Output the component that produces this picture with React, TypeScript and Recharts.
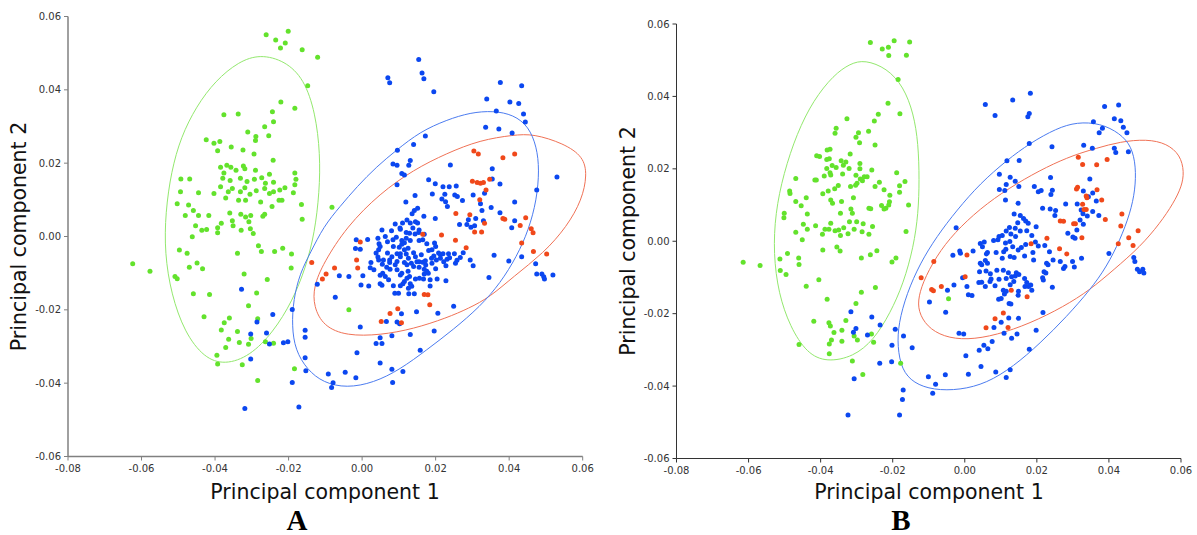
import { ReferenceLine, Scatter, ScatterChart, XAxis, YAxis } from "recharts";

type Pt = [number, number];

const xTicks = [-0.08, -0.06, -0.04, -0.02, 0, 0.02, 0.04, 0.06];
const yTicks = [-0.06, -0.04, -0.02, 0, 0.02, 0.04, 0.06];
const xTitle = "Principal component 1";
const yTitle = "Principal component 2";

// panel A
const greenA: Pt[] = [
  [-0.0261, 0.055], [-0.0235, 0.0536], [-0.0209, 0.0528], [-0.0201, 0.056], [-0.0222, 0.0514], [-0.0163, 0.0509],
  [-0.0121, 0.0489], [-0.0148, 0.0411], [-0.0221, 0.0367], [-0.0183, 0.035], [-0.0244, 0.034], [-0.0376, 0.0332],
  [-0.0337, 0.0334], [-0.0241, 0.0313], [-0.0265, 0.0299], [-0.0311, 0.0285], [-0.0289, 0.0273], [-0.029, 0.0262],
  [-0.0254, 0.0275], [-0.0424, 0.0264], [-0.0403, 0.0254], [-0.0387, 0.0259], [-0.0393, 0.0234], [-0.0356, 0.0244],
  [-0.0324, 0.0236], [-0.0294, 0.0225], [-0.0242, 0.0208], [-0.0385, 0.0189], [-0.0368, 0.0194], [-0.0357, 0.0189],
  [-0.0376, 0.0173], [-0.0343, 0.0181], [-0.0323, 0.0192], [-0.0319, 0.0185], [-0.029, 0.0181], [-0.0252, 0.017],
  [-0.0183, 0.0173], [-0.0379, 0.0159], [-0.0359, 0.0153], [-0.0331, 0.0159], [-0.0313, 0.015], [-0.0293, 0.0156],
  [-0.0273, 0.016], [-0.0263, 0.0145], [-0.0241, 0.0148], [-0.021, 0.0133], [-0.018, 0.0156], [-0.0183, 0.0141],
  [-0.0385, 0.0136], [-0.0364, 0.0122], [-0.0353, 0.0131], [-0.0331, 0.0122], [-0.0319, 0.0133], [-0.0305, 0.0115],
  [-0.0288, 0.0125], [-0.0265, 0.0131], [-0.0252, 0.0117], [-0.0241, 0.0122], [-0.0224, 0.0127], [-0.0218, 0.0099],
  [-0.0187, 0.0119], [-0.0403, 0.0117], [-0.0371, 0.0105], [-0.0336, 0.0099], [-0.0317, 0.0099], [-0.0276, 0.0094],
  [-0.0245, 0.0082], [-0.0226, 0.0099], [-0.0165, 0.0087], [-0.0163, 0.0047], [-0.0493, 0.0157], [-0.0469, 0.0157],
  [-0.0494, 0.0122], [-0.0445, 0.0119], [-0.0503, 0.0089], [-0.0472, 0.0086], [-0.0459, 0.0071], [-0.0481, 0.0057],
  [-0.0445, 0.0057], [-0.0417, 0.0057], [-0.0423, 0.0019], [-0.0453, 0.0029], [-0.0436, 0.0017], [-0.0462, -0.0001],
  [-0.0393, 0.0024], [-0.0393, 0.001], [-0.0383, 0.0036], [-0.036, 0.0064], [-0.0353, 0.0043], [-0.033, 0.0061],
  [-0.0317, 0.0053], [-0.0303, 0.0057], [-0.0308, 0.004], [-0.027, 0.0055], [-0.0265, 0.0061], [-0.0351, 0.0029],
  [-0.0329, 0.0017], [-0.0304, 0.0021], [-0.0296, 0.0008], [-0.0082, 0.008], [-0.0497, -0.0037], [-0.0476, -0.0046],
  [-0.047, -0.0084], [-0.0449, -0.0072], [-0.0434, -0.0088], [-0.0624, -0.0074], [-0.0577, -0.0095], [-0.0509, -0.0109],
  [-0.0503, -0.0115], [-0.0459, -0.0156], [-0.0415, -0.0158], [-0.043, -0.0219], [-0.0339, -0.0046], [-0.0321, -0.0102],
  [-0.0287, -0.0154], [-0.0258, -0.0117], [-0.0309, -0.0189], [-0.0274, -0.0041], [-0.0282, -0.0025], [-0.0238, -0.0041],
  [-0.0216, -0.0032], [-0.0192, -0.0048], [-0.0193, -0.0086], [-0.0284, -0.0224], [-0.0375, -0.0235], [-0.0361, -0.0222],
  [-0.0383, -0.0255], [-0.0339, -0.0259], [-0.0363, -0.028], [-0.0371, -0.0303], [-0.0334, -0.0289], [-0.0309, -0.0294],
  [-0.0302, -0.0278], [-0.0263, -0.0287], [-0.0241, -0.0291], [-0.0395, -0.0324], [-0.0393, -0.0348], [-0.0326, -0.035],
  [-0.0284, -0.0393], [-0.0184, -0.0361], [-0.0036, -0.02],
];

const blueA: Pt[] = [
  [0.014, 0.0251], [0.0096, 0.0235], [0.0084, 0.0198], [0.0095, 0.0194], [0.0131, 0.0207], [0.0127, 0.0194],
  [0.024, 0.0195], [0.0354, 0.0185], [0.0108, 0.0172], [0.0115, 0.0168], [0.0095, 0.0141], [0.0181, 0.0155],
  [0.0199, 0.0144], [0.022, 0.0136], [0.0237, 0.0136], [0.0256, 0.0138], [0.0354, 0.0157], [0.0191, 0.0116],
  [0.0225, 0.0115], [0.0252, 0.0113], [0.0259, 0.0109], [0.0273, 0.0098], [0.0302, 0.0113], [0.0217, 0.0102],
  [0.0227, 0.0095], [0.0232, 0.0082], [0.0144, 0.0112], [0.0119, 0.0094], [0.0375, 0.0143], [0.0322, 0.0089],
  [0.0333, 0.0118], [0.0351, 0.0079], [0.0375, 0.0065], [0.0326, 0.0071], [0.0309, 0.0049], [0.033, 0.0043],
  [0.0142, 0.0071], [0.0151, 0.0077], [0.0136, 0.0062], [0.0168, 0.0055], [0.0199, 0.0049], [0.0265, 0.0033],
  [0.0285, 0.0033], [0.0289, 0.0046], [0.0296, 0.0025], [0.0306, 0.0029], [0.0145, 0.004], [0.0151, 0.0037],
  [0.0131, 0.0037], [0.011, 0.0037], [0.009, 0.0034], [0.0103, 0.0023], [0.0054, 0.0018], [0.008, 0.0016],
  [0.012, 0.0011], [0.0129, 0.0009], [0.0144, 0.0007], [0.0154, 0.0011], [0.0093, -0.0002], [0.0108, -0.0011],
  [0.0115, -0.0017], [0.012, -0.0005], [0.0131, -0.0011], [0.0155, -0.0011], [0.0043, -0.0005], [0.0015, -0.0008],
  [-0.0016, -0.0009], [-0.0018, -0.0033], [0.0046, -0.002], [0.0049, -0.0027], [0.0085, -0.0027], [0.0095, -0.0047],
  [0.0104, -0.0047], [0.0108, -0.0021], [0.012, -0.0048], [0.0125, -0.0032], [0.0176, -0.002], [0.0181, -0.0038],
  [0.0197, -0.0018], [0.02, -0.0027], [0.0195, -0.0053], [0.0189, -0.0059], [0.0213, -0.005], [0.022, -0.0047],
  [0.0235, -0.0047], [0.0251, -0.0047], [0.0267, -0.0057], [0.0275, -0.0044], [0.0294, -0.0064], [0.0302, -0.008],
  [0.0359, -0.0051], [0.0213, -0.0059], [0.0222, -0.0069], [0.0231, -0.0062], [0.0238, -0.0058], [0.0254, -0.0073],
  [0.0258, -0.0065], [0.0228, -0.008], [0.019, -0.0073], [0.0173, -0.0078], [0.02, -0.0088], [0.018, -0.01],
  [0.0024, -0.0071], [0.0022, -0.0085], [0.0043, -0.0056], [0.0045, -0.0064], [0.0055, -0.0076], [0.0075, -0.0064],
  [0.0075, -0.0071], [0.0056, -0.01], [0.0063, -0.0109], [0.0095, -0.0091], [0.0104, -0.0105], [0.0108, -0.01],
  [0.0115, -0.0071], [0.0122, -0.0077], [0.0134, -0.0073], [0.0149, -0.0069], [0.0155, -0.0069], [0.014, -0.0082],
  [0.0125, -0.0095], [0.0122, -0.0114], [0.0129, -0.0109], [0.0115, -0.0123], [0.0111, -0.0129], [0.0131, -0.0129],
  [0.0135, -0.0136], [0.0104, -0.0134], [0.0126, -0.0141], [0.0127, -0.0156], [0.0089, -0.0155], [0.0099, -0.0155],
  [0.0085, -0.0134], [0.0142, -0.0156], [0.0145, -0.0116], [0.0156, -0.0114], [0.0169, -0.0102], [0.0167, -0.0116],
  [0.0185, -0.0135], [0.0204, -0.0116], [0.0185, -0.0118], [0.0049, -0.0129], [0.0054, -0.0133], [0.0018, -0.0135],
  [0.0002, -0.0107], [-0.0003, -0.0132], [-0.0036, -0.0109], [-0.0062, -0.0107], [-0.0122, -0.013], [-0.0073, -0.0166],
  [-0.0005, -0.0035], [0.0249, -0.019], [0.0345, -0.0112], [0.0206, -0.0209], [0.0148, -0.0205], [0.0107, -0.0211],
  [0.0095, -0.0233], [0.0102, -0.0238], [0.0066, -0.0232], [0.0081, -0.0271], [0.0196, -0.0258], [0.0131, -0.0267],
  [0.0049, -0.0276], [-0.0005, -0.0247], [-0.0155, -0.0256], [0.0228, -0.0121], [0.0101, -0.0029], [0.0115, -0.0036],
  [0.0104, -0.0055], [0.0126, -0.0059], [0.0095, -0.0068], [0.009, -0.0077], [0.0067, -0.0084], [0.0076, -0.0089],
  [0.0049, -0.0106], [0.0072, -0.0118], [0.0032, -0.0091], [0.0058, -0.0064], [0.0069, -0.0045], [0.0081, -0.0055],
  [0.014, -0.0044], [0.0145, -0.0055], [0.0161, -0.005], [0.0165, -0.007], [0.0172, -0.0066], [0.0155, -0.0084],
  [0.0169, -0.0089], [0.0176, -0.0095], [0.0202, -0.0064], [0.0208, -0.0045], [0.019, -0.0036], [0.0165, -0.0009],
  [0.0169, 0.0006], [0.0155, 0.0018], [0.0138, 0.0023], [0.0122, 0.0045], [0.0104, 0.002], [0.0084, -0.0009],
  [0.0063, 0], [0.0045, -0.0036], [0.0038, -0.0045], [0.0069, -0.0014],
  [0.0154, 0.0483], [0.0163, 0.0446], [0.0168, 0.043], [0.007, 0.0433], [0.0075, 0.0419], [0.0195, 0.0395],
  [0.0339, 0.0375], [0.0376, 0.042], [0.0434, 0.0411], [0.0365, 0.0342], [0.0402, 0.0367], [0.0426, 0.0363],
  [0.0439, 0.0334], [0.0444, 0.0312], [0.0336, 0.0298], [0.0372, 0.0293], [0.0408, 0.0282], [0.0172, 0.0274],
  [0.0475, 0.0127], [0.053, 0.0162], [0.0415, 0.0094], [0.0415, 0.0043], [0.0407, 0.0024], [0.0434, -0.0055],
  [0.0399, -0.0067], [0.0472, -0.0074], [0.0475, -0.0102], [0.0489, -0.0102], [0.0494, -0.011], [0.0496, -0.0116],
  [0.0519, -0.0105], [0.0083, -0.0398], [0.0111, -0.0368], [0.0081, -0.0362], [0.0049, -0.0345], [0.0038, -0.0292],
  [0.0054, -0.0292], [-0.0014, -0.0317], [-0.0017, -0.0385], [-0.0046, -0.037], [-0.0079, -0.0399], [-0.0083, -0.0412],
  [-0.0092, -0.0375], [0.0158, -0.031], [-0.0328, -0.0144], [-0.0286, -0.0233], [-0.0303, -0.0266], [-0.0303, -0.0334],
  [-0.026, -0.0263], [-0.0252, -0.0293], [-0.0243, -0.0213], [-0.0214, -0.029], [-0.0202, -0.0287], [-0.019, -0.0199],
  [-0.019, -0.0398], [-0.0172, -0.0465], [-0.0319, -0.0469], [-0.0155, -0.0275], [-0.0155, -0.0331], [-0.0153, -0.0366],
];

const redA: Pt[] = [
  [0.0304, 0.0233], [0.0316, 0.0225], [0.03, 0.0151], [0.0313, 0.0147], [0.0322, 0.0145], [0.033, 0.0147],
  [0.0347, 0.0156], [0.0337, 0.0127], [0.032, 0.01], [0.0255, 0.0063], [0.0293, 0.0059], [0.0333, 0.0036],
  [0.0306, 0.0012], [0.0325, 0.0012], [0.0165, 0.0006], [0.0216, 0.0004], [0.0254, -0.001], [0.0283, -0.0031],
  [-0.0005, -0.0015], [-0.0015, -0.0064], [-0.0012, -0.0086], [-0.0075, -0.0086], [-0.0098, -0.0102], [-0.0108, -0.0116],
  [-0.0137, -0.0071], [0.0169, -0.0158], [0.0179, -0.0159], [0.0184, -0.0186], [0.0097, -0.0197], [0.0076, -0.021],
  [0.0052, -0.0232], [0.0107, -0.0235], [0.0383, 0.0215], [0.0415, 0.0225], [0.0383, 0.0049], [0.0388, 0.0047],
  [0.043, 0.003], [0.0445, 0.0051], [0.046, 0.0021], [0.0465, 0.001], [0.0434, -0.0018], [0.0466, -0.0041],
  [0.0502, -0.0048],
];

// outlines of the ellipses, traced around the picture
const greenRingA: Pt[] = [
  [-0.0277, 0.0497], [-0.021, 0.0479], [-0.0158, 0.043], [-0.0127, 0.0337], [-0.0114, 0.0225], [-0.0116, 0.0122],
  [-0.0129, 0.001], [-0.0153, -0.0084], [-0.019, -0.0177], [-0.0242, -0.0261], [-0.0305, -0.0326], [-0.0373, -0.035],
  [-0.043, -0.0331], [-0.0483, -0.0261], [-0.0519, -0.0158], [-0.0537, -0.0046], [-0.0535, 0.0066], [-0.0519, 0.0178],
  [-0.0493, 0.0271], [-0.0451, 0.0355], [-0.0399, 0.0425], [-0.0336, 0.0477],
];
const blueRingA: Pt[] = [
  [0.0357, 0.0343], [0.0412, 0.0332], [0.0453, 0.03], [0.0475, 0.0245], [0.0482, 0.0182], [0.0475, 0.01],
  [0.0453, 0.0018], [0.0421, -0.0054], [0.0376, -0.0127], [0.0321, -0.0191], [0.0248, -0.0254], [0.0176, -0.0309],
  [0.0103, -0.0363], [0.0031, -0.0399], [-0.0042, -0.0413], [-0.0105, -0.0399], [-0.015, -0.0363], [-0.0182, -0.0309],
  [-0.0191, -0.0245], [-0.0187, -0.0172], [-0.0169, -0.01], [-0.0141, -0.0045], [-0.0105, 0.0027], [-0.006, 0.0082],
  [-0.0014, 0.0136], [0.004, 0.0191], [0.0094, 0.0236], [0.0158, 0.0286], [0.023, 0.0318], [0.0294, 0.0338],
];
const redRingA: Pt[] = [
  [0.0466, 0.028], [0.0548, 0.0254], [0.0602, 0.0218], [0.0612, 0.0168], [0.0598, 0.01], [0.0557, 0.0027],
  [0.0494, -0.0045], [0.0412, -0.0109], [0.0348, -0.0165], [0.029, -0.0196], [0.023, -0.0222], [0.014, -0.0252],
  [0.0049, -0.0269], [-0.0042, -0.0271], [-0.0105, -0.0245], [-0.0132, -0.0191], [-0.0132, -0.0136], [-0.0105, -0.0072],
  [-0.0042, 0.0027], [0.0049, 0.0118], [0.014, 0.0182], [0.023, 0.0227], [0.0321, 0.0263], [0.0412, 0.0277],
];

// panel B
const greenB: Pt[] = [
  [-0.0262, 0.0549], [-0.0229, 0.0531], [-0.0212, 0.0536], [-0.0196, 0.0554], [-0.0153, 0.055], [-0.0211, 0.0513],
  [-0.0162, 0.0514], [-0.0185, 0.0447], [-0.0213, 0.0381], [-0.018, 0.0352], [-0.024, 0.0351], [-0.0251, 0.0332],
  [-0.0327, 0.0338], [-0.0357, 0.0312], [-0.036, 0.0298], [-0.0295, 0.03], [-0.0302, 0.0287], [-0.0267, 0.0304],
  [-0.0292, 0.0272], [-0.0249, 0.0266], [-0.0382, 0.0252], [-0.0374, 0.0254], [-0.0411, 0.0236], [-0.0403, 0.0234],
  [-0.0318, 0.0241], [-0.0383, 0.0226], [-0.0376, 0.0228], [-0.0343, 0.0222], [-0.033, 0.0219], [-0.0337, 0.021],
  [-0.0291, 0.0215], [-0.0368, 0.0209], [-0.0357, 0.0204], [-0.0383, 0.0201], [-0.0321, 0.0201], [-0.0291, 0.02],
  [-0.0258, 0.0197], [-0.0189, 0.0189], [-0.0374, 0.0189], [-0.0372, 0.0183], [-0.0339, 0.0186], [-0.039, 0.018],
  [-0.0469, 0.0173], [-0.0416, 0.0169], [-0.0412, 0.0169], [-0.0302, 0.0182], [-0.0279, 0.0178], [-0.0271, 0.0178],
  [-0.029, 0.0172], [-0.0284, 0.0167], [-0.0299, 0.016], [-0.0303, 0.0155], [-0.0317, 0.0151], [-0.0237, 0.0163],
  [-0.0249, 0.0151], [-0.0166, 0.0165], [-0.0181, 0.0153], [-0.0181, 0.0135], [-0.0224, 0.0142], [-0.0208, 0.0127],
  [-0.0351, 0.0154], [-0.0361, 0.0145], [-0.0379, 0.0139], [-0.0394, 0.0131], [-0.0486, 0.0139], [-0.0485, 0.0132],
  [-0.044, 0.012], [-0.0469, 0.011], [-0.0454, 0.0098], [-0.0372, 0.0114], [-0.0367, 0.0105], [-0.0342, 0.011],
  [-0.0309, 0.012], [-0.0231, 0.0099], [-0.0219, 0.0091], [-0.0224, 0.0089], [-0.0209, 0.0109], [-0.0211, 0.01],
  [-0.0266, 0.0091], [-0.0261, 0.009], [-0.0156, 0.01], [-0.0316, 0.0089], [-0.0312, 0.0077], [-0.0345, 0.0077],
  [-0.0437, 0.0075], [-0.0501, 0.0077], [-0.0502, 0.0065], [-0.0448, 0.0047], [-0.0414, 0.0043], [-0.0372, 0.005],
  [-0.032, 0.0054], [-0.03, 0.0054], [-0.0282, 0.0048], [-0.0256, 0.0041], [-0.0388, 0.0033], [-0.0377, 0.0033],
  [-0.036, 0.0029], [-0.035, 0.0031], [-0.0336, 0.0037], [-0.0307, 0.0033], [-0.0285, 0.0026], [-0.0266, 0.0019],
  [-0.0345, 0.0016], [-0.0324, 0.0021], [-0.0395, 0.0019], [-0.0437, 0.0033], [-0.0469, 0.0025], [-0.0451, 0.0004],
  [-0.0163, 0.0027], [-0.0355, -0.0016], [-0.0346, -0.0027], [-0.0394, -0.0024], [-0.0244, -0.0026], [-0.0262, -0.0037],
  [-0.0287, -0.0046], [-0.0191, -0.0046], [-0.0202, -0.0057], [-0.0492, -0.0034], [-0.0513, -0.0049], [-0.0461, -0.0046],
  [-0.046, -0.0064], [-0.0512, -0.0081], [-0.0496, -0.0092], [-0.0615, -0.0058], [-0.0568, -0.0067], [-0.0405, -0.0106],
  [-0.044, -0.0124], [-0.0248, -0.0128], [-0.0287, -0.0141], [-0.0382, -0.016], [-0.0302, -0.0172], [-0.0419, -0.0221],
  [-0.0377, -0.0225], [-0.0373, -0.0234], [-0.0363, -0.0252], [-0.033, -0.0219], [-0.0341, -0.0246], [-0.0307, -0.0262],
  [-0.0298, -0.0273], [-0.037, -0.0273], [-0.0376, -0.0284], [-0.0341, -0.0276], [-0.046, -0.0285], [-0.0376, -0.0311],
  [-0.0253, -0.0279], [-0.0259, -0.0256], [-0.0312, -0.0331], [-0.0283, -0.0368], [-0.0178, -0.0337], [-0.0045, -0.0159],
];

const blueB: Pt[] = [
  [0.0057, 0.0378], [0.0084, 0.0347], [0.0133, 0.039], [0.0182, 0.0409], [0.0179, 0.0353], [0.0175, 0.0344],
  [0.0388, 0.0372], [0.0427, 0.0376], [0.0415, 0.0338], [0.0433, 0.0333], [0.0357, 0.033], [0.0382, 0.0312],
  [0.0373, 0.03], [0.044, 0.0315], [0.045, 0.03], [0.0179, 0.027], [0.0242, 0.0261], [0.033, 0.0265],
  [0.0354, 0.0257], [0.0415, 0.0257], [0.0419, 0.0245], [0.0454, 0.0247], [0.0117, 0.0222], [0.0151, 0.0223],
  [0.0096, 0.0185], [0.0126, 0.0177], [0.014, 0.0166], [0.0115, 0.0157], [0.0096, 0.0143], [0.0111, 0.014],
  [0.015, 0.0151], [0.0238, 0.0176], [0.0193, 0.0151], [0.0204, 0.0137], [0.0212, 0.014], [0.0243, 0.0141],
  [0.0239, 0.0129], [0.0347, 0.0172], [0.0329, 0.0139], [0.0355, 0.0133], [0.0343, 0.0123], [0.0365, 0.0111],
  [0.0113, 0.0114], [0.0148, 0.0105], [0.0216, 0.0091], [0.0237, 0.0089], [0.0252, 0.0085], [0.025, 0.0071],
  [0.028, 0.0103], [0.0312, 0.0103], [0.0323, 0.0086], [0.0328, 0.0076], [0.034, 0.007], [0.0355, 0.0082],
  [0.0372, 0.0071], [0.032, 0.0059], [0.0329, 0.0047], [0.0311, 0.0031], [0.03, 0.0012], [0.0306, 0.0008],
  [0.0286, 0.0022], [0.0137, 0.0075], [0.0154, 0.0071], [0.0163, 0.0063], [0.0169, 0.0056], [0.0176, 0.005],
  [0.0147, 0.0051], [0.014, 0.0036], [0.0154, 0.0028], [0.0124, 0.0038], [0.0115, 0.0028], [0.0128, 0.002],
  [0.0104, 0.0016], [0.0095, 0.0013], [0.0092, 0.0004], [0.0113, -0.0005], [0.0125, -0.0001], [0.0141, 0.0013],
  [0.0172, 0.0029], [0.0198, 0.004], [0.0186, 0.0016], [0.0196, -0.0002], [0.0043, -0.0006], [0.0054, -0.0002],
  [0.008, 0.0002], [0.0049, -0.0015], [0.0063, -0.0031], [0.006, -0.0035], [0.0087, -0.0031], [0.0108, -0.0029],
  [0.0114, -0.0022], [0.0133, -0.0015], [0.0148, -0.0024], [0.0157, -0.0017], [0.0169, -0.0009], [0.0104, -0.0047],
  [0.0126, -0.0042], [0.0137, -0.0045], [0.0166, -0.0041], [0.0189, -0.0031], [0.0204, -0.0013], [0.0222, -0.0012],
  [0.0235, -0.0029], [0.0191, -0.0052], [0.0227, -0.0061], [0.0231, -0.0065], [0.0245, -0.0052], [0.0265, -0.0056],
  [0.0299, -0.0056], [0.0324, -0.0047], [0.0274, -0.0075], [0.0278, -0.007], [0.0304, -0.0071], [0.022, -0.0084],
  [0.0225, -0.0088], [0.0216, -0.0101], [0.0218, -0.0107], [0.0243, -0.0127], [0.0043, -0.0061], [0.0047, -0.0065],
  [0.0057, -0.0053], [0.0063, -0.0061], [0.0041, -0.0084], [0.0059, -0.0082], [0.0071, -0.009], [0.0089, -0.008],
  [0.0095, -0.0105], [0.0115, -0.0103], [0.0107, -0.008], [0.0121, -0.0087], [0.013, -0.0098], [0.0136, -0.0111],
  [0.0126, -0.012], [0.014, -0.0096], [0.015, -0.0092], [0.0143, -0.0087], [0.0166, -0.0103], [0.0172, -0.0114],
  [0.0177, -0.0125], [0.0186, -0.0135], [0.0183, -0.0121], [0.0167, -0.0125], [0.0149, -0.0138], [0.0148, -0.0149],
  [0.0123, -0.0172], [0.0128, -0.0173], [0.0107, -0.0135], [0.0115, -0.0138], [0.011, -0.0146], [0.0094, -0.016],
  [0.0101, -0.0158], [0.0039, -0.0114], [0.0047, -0.0113], [0.0057, -0.0125], [0.007, -0.0111], [0.0073, -0.0104],
  [0.0084, -0.0123], [0.001, -0.0148], [0.002, -0.015], [0.0006, -0.0125], [-0.0006, -0.0101], [-0.0014, -0.0027],
  [-0.0012, -0.0033], [-0.0033, -0.0039], [0.0023, -0.0027], [-0.0024, 0.0037], [-0.003, -0.0121], [-0.0048, -0.0135],
  [-0.0098, -0.0168], [-0.0053, -0.0196], [0.0149, -0.0213], [0.0122, -0.0212], [0.0101, -0.0224], [0.0081, -0.0238],
  [0.0109, -0.0254], [0.013, -0.0268], [0.0145, -0.0256], [0.0217, -0.0197], [0.0198, -0.0246], [0.0179, -0.0298],
  [0.04, -0.0034], [0.0469, -0.0045], [0.0472, -0.0056], [0.0479, -0.0077], [0.0494, -0.0077], [0.0497, -0.0088],
  [0.0485, -0.0084], [-0.0016, -0.0254], [-0.0003, -0.0256], [0.0076, -0.0277], [0.0053, -0.0287], [0.0064, -0.0297],
  [0.004, -0.0301], [0.0003, -0.0316], [0.0045, -0.0346], [0.0086, -0.0361], [0.0115, -0.0376], [0.0126, -0.0355],
  [0.001, -0.0367], [-0.0054, -0.0369], [-0.0101, -0.0374], [-0.0081, -0.0395], [-0.0089, -0.042], [-0.0171, -0.0411],
  [-0.0173, -0.0437], [-0.0181, -0.048], [-0.0146, -0.0294], [-0.017, -0.0262], [-0.0193, -0.0243], [-0.0202, -0.0287],
  [-0.0203, -0.0333], [-0.0316, -0.0195], [-0.0258, -0.0209], [-0.0235, -0.0231], [-0.0302, -0.0241], [-0.0309, -0.0251],
  [-0.027, -0.0259], [-0.0307, -0.038], [-0.0236, -0.0337], [-0.0324, -0.048],
];

const redB: Pt[] = [
  [0.0315, 0.0232], [0.0327, 0.0212], [0.0366, 0.0211], [0.0395, 0.0226], [0.031, 0.0144], [0.0313, 0.0149],
  [0.0367, 0.0142], [0.0337, 0.0125], [0.0339, 0.012], [0.038, 0.0114], [0.0327, 0.0102], [0.0337, 0.0088],
  [0.0331, 0.0088], [0.0436, 0.0075], [0.039, 0.006], [0.0265, 0.0056], [0.0274, 0.0055], [0.0302, 0.0048],
  [0.0307, 0.0048], [0.0433, 0.0042], [0.0481, 0.0029], [0.0228, 0.0008], [0.0455, 0.001], [0.0325, 0.001],
  [0.0184, -0.0007], [0.0426, -0.0007], [0.0467, -0.0012], [0.0263, -0.0021], [0.0283, -0.0035], [0.0006, -0.0038],
  [-0.0086, -0.0056], [0.0001, -0.0098], [-0.0121, -0.0101], [-0.0092, -0.0133], [-0.0087, -0.0137], [-0.0065, -0.0125],
  [0.0129, -0.0135], [0.0173, -0.0153], [0.0107, -0.0198], [0.0084, -0.0214], [0.0059, -0.0239], [0.012, -0.0238],
];

const greenRingB: Pt[] = [
  [-0.0277, 0.0501], [-0.0216, 0.0478], [-0.017, 0.0427], [-0.0142, 0.0353], [-0.0129, 0.027], [-0.0126, 0.0169],
  [-0.0129, 0.0077], [-0.0142, -0.0015], [-0.017, -0.0116], [-0.0207, -0.0199], [-0.0253, -0.0273], [-0.0309, -0.0319],
  [-0.0383, -0.0334], [-0.0438, -0.031], [-0.0485, -0.0236], [-0.0517, -0.0144], [-0.0531, -0.0034], [-0.0526, 0.0077],
  [-0.0503, 0.0187], [-0.0466, 0.0298], [-0.042, 0.039], [-0.0364, 0.0459], [-0.0318, 0.0491],
];
const blueRingB: Pt[] = [
  [0.0311, 0.0329], [0.0376, 0.0326], [0.0431, 0.0298], [0.0463, 0.0262], [0.0475, 0.0206], [0.0473, 0.0142],
  [0.0459, 0.0077], [0.0431, 0.0004], [0.0394, -0.007], [0.0348, -0.0134], [0.0283, -0.0208], [0.0209, -0.0282],
  [0.0135, -0.0346], [0.0061, -0.0392], [-0.0013, -0.0411], [-0.0087, -0.0411], [-0.0142, -0.0392], [-0.0175, -0.0355],
  [-0.0187, -0.0291], [-0.0184, -0.0227], [-0.0161, -0.0144], [-0.0124, -0.0061], [-0.0078, 0.0013], [-0.0022, 0.0086],
  [0.0043, 0.016], [0.0117, 0.0224], [0.0181, 0.0271], [0.0255, 0.0312],
];
const redRingB: Pt[] = [
  [0.0431, 0.0275], [0.0505, 0.0282], [0.0561, 0.027], [0.0598, 0.0238], [0.0609, 0.0192], [0.0602, 0.0151],
  [0.0579, 0.0105], [0.0542, 0.005], [0.0487, -0.0015], [0.0413, -0.0079], [0.0348, -0.0134], [0.0274, -0.0181],
  [0.0181, -0.0227], [0.0089, -0.0259], [0.0006, -0.0273], [-0.0059, -0.0264], [-0.0105, -0.0236], [-0.0129, -0.0194],
  [-0.0129, -0.0153], [-0.011, -0.0098], [-0.0068, -0.0024], [-0.0013, 0.004], [0.0061, 0.0105], [0.0144, 0.016],
  [0.0228, 0.0206], [0.0302, 0.0238], [0.0366, 0.0257],
];

const GREEN = "#63e22c";
const BLUE = "#0b47f0";
const RED = "#f0481a";
const GREEN_RING = "#93e86e";
const BLUE_RING = "#4c7cf0";
const RED_RING = "#f07256";

const rows = (pts: Pt[]) => pts.map(([x, y]) => ({ x, y }));
const fmt = (v: number) => v.toFixed(2);
const tickStyle = { fill: "#333", fontSize: 10, fontFamily: "DejaVu Sans" };

const dot = (color: string) => (props: any) => {
  const cx = props.cx ?? props.x + (props.width || 0) / 2;
  const cy = props.cy ?? props.y + (props.height || 0) / 2;
  return <circle cx={cx} cy={cy} r={2.5} fill={color} />;
};
const NoDot = () => <g />;

type PanelProps = {
  left: number;
  width: number;
  margin: { top: number; right: number; bottom: number; left: number };
  axisColor: string;
  axisWidth: number;
  green: Pt[];
  blue: Pt[];
  red: Pt[];
  rings: { pts: Pt[]; color: string }[];
};

function Panel({ left, width, margin, axisColor, axisWidth, green, blue, red, rings }: PanelProps) {
  return (
    <div style={{ position: "absolute", left, top: 0 }}>
      <ScatterChart width={width} height={535} margin={margin}>
        <XAxis
          type="number"
          dataKey="x"
          domain={[-0.08, 0.064]}
          ticks={xTicks}
          interval={0}
          tickFormatter={fmt}
          axisLine={false}
          tickLine={{ stroke: axisColor }}
          tickSize={4}
          tickMargin={4}
          tick={tickStyle}
          height={30}
        />
        <YAxis
          type="number"
          dataKey="y"
          domain={[-0.06, 0.06]}
          ticks={yTicks}
          interval={0}
          tickFormatter={fmt}
          axisLine={{ stroke: axisColor, strokeWidth: axisWidth }}
          tickLine={{ stroke: axisColor }}
          tickSize={4}
          tickMargin={3}
          tick={tickStyle}
          width={60}
        />
        <ReferenceLine
          segment={[{ x: -0.08, y: -0.06 }, { x: 0.06, y: -0.06 }]}
          stroke={axisColor}
          strokeWidth={axisWidth}
        />
        {rings.map((r, i) => (
          <Scatter
            key={i}
            data={rows(r.pts)}
            line={{ stroke: r.color, strokeWidth: 1 }}
            lineJointType="basisClosed"
            shape={<NoDot />}
            isAnimationActive={false}
          />
        ))}
        <Scatter data={rows(green)} shape={dot(GREEN)} isAnimationActive={false} />
        <Scatter data={rows(blue)} shape={dot(BLUE)} isAnimationActive={false} />
        <Scatter data={rows(red)} shape={dot(RED)} isAnimationActive={false} />
      </ScatterChart>
    </div>
  );
}

export default function App() {
  const titleFont = { fontFamily: "DejaVu Sans", fontSize: 20.5, fill: "#111" };
  const letterFont = { fontFamily: "Liberation Serif", fontSize: 29, fontWeight: 700, fill: "#000" };
  return (
    <div style={{ position: "absolute", left: 0, top: 0, width: 1197, height: 535, background: "#fff" }}>
      <Panel
        left={0}
        width={600}
        margin={{ top: 16.5, right: 2.6, bottom: 48.5, left: 8 }}
        axisColor="#808080"
        axisWidth={1.5}
        green={greenA}
        blue={blueA}
        red={redA}
        rings={[
          { pts: greenRingA, color: GREEN_RING },
          { pts: redRingA, color: RED_RING },
          { pts: blueRingA, color: BLUE_RING },
        ]}
      />
      <Panel
        left={600}
        width={597}
        margin={{ top: 24, right: 1.6, bottom: 46.5, left: 16.5 }}
        axisColor="#333"
        axisWidth={1}
        green={greenB}
        blue={blueB}
        red={redB}
        rings={[
          { pts: greenRingB, color: GREEN_RING },
          { pts: redRingB, color: RED_RING },
          { pts: blueRingB, color: BLUE_RING },
        ]}
      />
      <svg width={1197} height={535} style={{ position: "absolute", left: 0, top: 0, pointerEvents: "none" }}>
        <text x={325} y={499} textAnchor="middle" {...titleFont}>{xTitle}</text>
        <text x={929} y={499} textAnchor="middle" {...titleFont}>{xTitle}</text>
        <text transform="translate(26,236.5) rotate(-90)" textAnchor="middle" {...titleFont}>{yTitle}</text>
        <text transform="translate(635,241) rotate(-90)" textAnchor="middle" {...titleFont}>{yTitle}</text>
        <text x={297} y={530} textAnchor="middle" {...letterFont}>A</text>
        <text x={901} y={530} textAnchor="middle" {...letterFont}>B</text>
      </svg>
    </div>
  );
}
